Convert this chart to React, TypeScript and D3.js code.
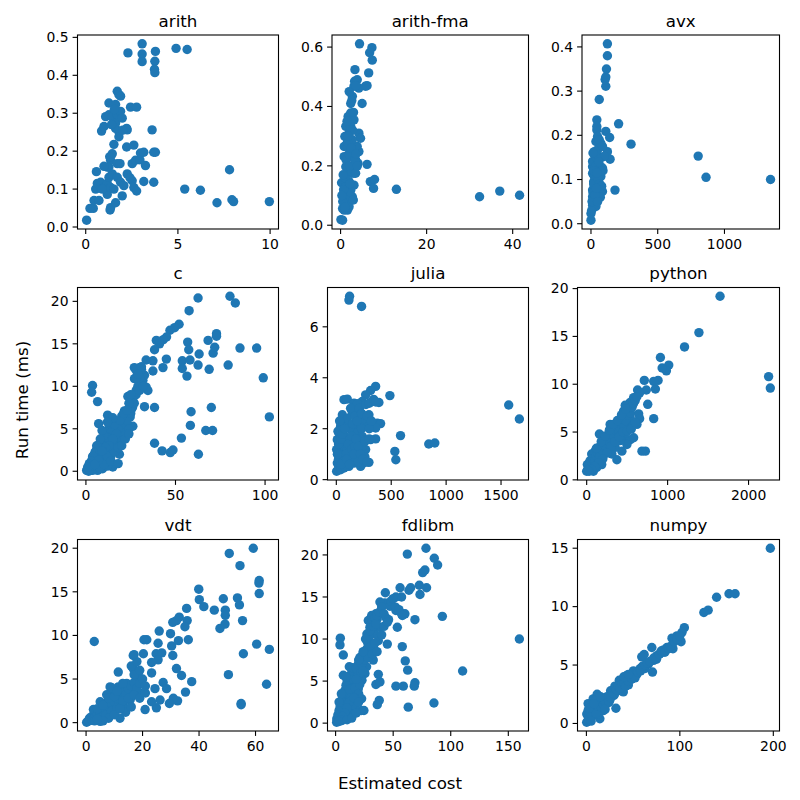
import * as React from 'react';
import * as d3 from 'd3';

type Pt = [number, number];

// estimated cost vs run time (ms), one list per benchmark
const arith: Pt[] = [
  [0.05, 0.018], [0.23, 0.049], [0.41, 0.049], [0.45, 0.07], [0.72, 0.07], [0.54, 0.1], [0.63, 0.115],
  [0.81, 0.104], [0.81, 0.118], [0.58, 0.146], [1.17, 0.086], [1.32, 0.045], [1.35, 0.051], [1.62, 0.064],
  [1.98, 0.082], [0.99, 0.104], [1.17, 0.115], [1.35, 0.104], [1.53, 0.1], [1.26, 0.131], [1.44, 0.14],
  [1.26, 0.158], [1.35, 0.176], [1.44, 0.193], [1.53, 0.218], [1.17, 0.158], [0.99, 0.16], [1.71, 0.167],
  [1.86, 0.167], [1.71, 0.131], [1.89, 0.118], [2.07, 0.109], [2.25, 0.14], [2.52, 0.122], [2.61, 0.104],
  [2.76, 0.095], [2.22, 0.211], [2.61, 0.216], [2.52, 0.167], [2.7, 0.176], [2.94, 0.177], [2.97, 0.195],
  [3.15, 0.197], [3.24, 0.162], [3.15, 0.12], [3.69, 0.118], [3.69, 0.197], [3.78, 0.197], [3.6, 0.256],
  [2.25, 0.256], [2.22, 0.26], [0.86, 0.253], [0.99, 0.265], [1.08, 0.291], [1.26, 0.296], [1.26, 0.327],
  [1.62, 0.323], [1.71, 0.358], [1.8, 0.349], [1.89, 0.345], [1.44, 0.29], [1.62, 0.274], [1.71, 0.296],
  [1.89, 0.305], [1.98, 0.287], [1.8, 0.251], [1.8, 0.238], [1.62, 0.26], [2.43, 0.316], [2.76, 0.316],
  [2.29, 0.459], [3.06, 0.483], [3.06, 0.456], [3.06, 0.436], [3.78, 0.463], [3.75, 0.437], [3.73, 0.416],
  [3.75, 0.407], [4.9, 0.471], [5.5, 0.468], [5.37, 0.1], [6.22, 0.097], [7.12, 0.064], [7.8, 0.151],
  [7.93, 0.072], [8.02, 0.067], [9.96, 0.067], [1.4, 0.27], [1.55, 0.31], [1.3, 0.185], [2.0, 0.255],
  [0.9, 0.1], [2.4, 0.13],
];

const arithFma: Pt[] = [
  [0.08, 0.019], [0.46, 0.056], [0.83, 0.085], [0.23, 0.143], [0.68, 0.107], [1.21, 0.13], [1.59, 0.175],
  [1.75, 0.197], [1.21, 0.197], [1.97, 0.147], [2.35, 0.118], [2.73, 0.096], [1.59, 0.051], [1.97, 0.085],
  [1.44, 0.231], [0.83, 0.265], [0.99, 0.299], [1.21, 0.333], [1.75, 0.366], [2.35, 0.378], [2.35, 0.41],
  [2.73, 0.434], [3.11, 0.468], [3.26, 0.485], [3.34, 0.524], [3.87, 0.49], [4.25, 0.462], [5.77, 0.468],
  [6.15, 0.47], [4.4, 0.611], [7.28, 0.598], [6.75, 0.581], [7.36, 0.556], [6.53, 0.513], [5.0, 0.41],
  [4.25, 0.31], [4.63, 0.293], [3.87, 0.265], [4.25, 0.248], [3.49, 0.22], [4.02, 0.209], [6.15, 0.205],
  [3.11, 0.175], [3.49, 0.265], [2.35, 0.265], [2.73, 0.288], [3.11, 0.355], [6.9, 0.147], [7.89, 0.154],
  [7.66, 0.124], [12.97, 0.121], [32.3, 0.096], [37.0, 0.115], [41.6, 0.101], [0.83, 0.231], [1.59, 0.265],
  [1.97, 0.31], [2.35, 0.333], [2.73, 0.231], [2.2, 0.197], [2.5, 0.175], [1.59, 0.107], [1.21, 0.085],
  [0.83, 0.051], [0.46, 0.017], [1.97, 0.062], [2.96, 0.085], [3.11, 0.135], [3.49, 0.175], [0.5, 0.08],
  [0.7, 0.12], [1.0, 0.16], [1.3, 0.22], [1.6, 0.28], [1.9, 0.24], [2.1, 0.2], [2.5, 0.26], [2.8, 0.32],
  [3.0, 0.38], [2.6, 0.42], [1.5, 0.35], [1.8, 0.3], [2.2, 0.14], [3.3, 0.22], [3.6, 0.24], [3.9, 0.2],
  [2.0, 0.45], [3.5, 0.47], [0.3, 0.1], [0.6, 0.17], [1.0, 0.06],
];

const avx: Pt[] = [
  [0, 0.008], [0, 0.023], [12, 0.042], [12, 0.061], [12, 0.076], [20, 0.095], [12, 0.114], [12, 0.129],
  [12, 0.141], [25, 0.163], [37, 0.186], [44, 0.212], [44, 0.235], [44, 0.22], [62, 0.281], [111, 0.311],
  [106, 0.326], [111, 0.332], [116, 0.35], [123, 0.38], [123, 0.407], [49, 0.061], [62, 0.076], [86, 0.073],
  [74, 0.107], [69, 0.129], [62, 0.152], [49, 0.167], [74, 0.182], [49, 0.197], [62, 0.19], [111, 0.209],
  [140, 0.195], [123, 0.163], [143, 0.146], [180, 0.076], [207, 0.226], [300, 0.18], [803, 0.153],
  [862, 0.105], [1345, 0.1], [25, 0.084], [37, 0.099], [49, 0.122], [25, 0.054], [37, 0.039], [25, 0.107],
  [86, 0.126], [99, 0.152], [86, 0.175], [5, 0.03], [8, 0.05], [15, 0.07], [20, 0.09], [30, 0.11],
  [35, 0.13], [40, 0.15], [55, 0.1], [60, 0.14], [65, 0.09], [70, 0.06], [80, 0.085], [90, 0.12],
  [30, 0.065], [20, 0.12], [15, 0.16], [40, 0.08], [50, 0.05], [45, 0.115],
];

const cLang: Pt[] = [
  [3.7, 10.1], [3.2, 9.3], [6.5, 8.2], [7.1, 5.6], [12.1, 6.6], [62.6, 20.4], [80.4, 20.6], [83.4, 19.8],
  [57.6, 18.9], [52, 17.3], [49.5, 16.9], [46.9, 16.6], [45, 15.8], [43.2, 15.5], [39.3, 15.4], [41.1, 15],
  [38.3, 14.3], [37.4, 13], [33.6, 13.1], [44.9, 13.2], [43, 12.2], [37.4, 11.8], [29.9, 12.2], [28, 11.9],
  [56.8, 15.2], [57.4, 14.3], [53.8, 13], [53.8, 12.1], [56.4, 11.2], [58.1, 13.1], [63.2, 13.8],
  [62.6, 12.5], [68.2, 15.4], [71, 13.9], [71.9, 14.6], [72.9, 16.2], [72.9, 15.9], [68.8, 12], [86, 14.5],
  [95.3, 14.5], [79.4, 12.5], [99, 11], [102.4, 6.4], [32.7, 7.6], [38.3, 7.5], [70, 7.5], [58.7, 7],
  [58.3, 5.4], [66.9, 4.8], [70.7, 4.8], [53.3, 3.9], [38.3, 3.3], [42.5, 2.4], [47.1, 2.2], [48.6, 2.5],
  [62.8, 2], [26.2, 8.3], [23.4, 8.8], [28, 9.5], [29.9, 10.3], [31.8, 10.7], [33.6, 9.9], [34.6, 9.5],
  [27.1, 10.9], [32.7, 11.3], [21.5, 7.1], [25.2, 7.2], [24.7, 6.4], [26.2, 5.3], [21.5, 5.2], [18.7, 5.6],
  [15.9, 6], [13.1, 5.2], [11.2, 4.6], [15, 4.8], [18.7, 3.6], [22.4, 4.2], [17.8, 4.8], [9.3, 3.6],
  [7.5, 3.2], [5.6, 2.4], [3.7, 1.7], [1.9, 0.9], [0.4, 0.1], [0.9, 0.3], [2.8, 0.5], [11.2, 2.4], [14, 1.8],
  [18.7, 2], [15, 0.5], [9.3, 0.3], [7.5, 0.9], [5.6, 1.5], [7.5, 2], [10.3, 3], [13.1, 3.4], [15.9, 4],
  [12.1, 2.4], [4.7, 0.5], [6.5, 0.1], [3.7, 0.1], [1.5, 0], [2, 0.2], [3, 0.6], [4, 1], [5, 1.3], [6, 1.8],
  [7, 2.5], [8, 2.8], [9, 2], [10, 1.5], [11, 1], [12, 0.6], [13, 1.3], [14, 2.8], [16, 3], [17, 2.5],
  [19, 3], [20, 4], [21, 4.5], [22, 5.5], [23, 6], [24, 5], [25, 6.8], [26, 7.5], [27, 8], [28, 9],
  [29, 10], [30, 11], [31, 12], [30, 9.5], [32, 10], [28, 11], [27, 12.2], [31, 12.3], [29, 11.4], [25, 9],
  [24, 8], [20, 6.5], [18, 5], [16, 5.5], [14, 4.5], [12, 4], [10, 4.2], [9, 4.8], [8, 3.8], [6, 3],
  [5, 2.2], [4, 1.8], [3, 1.2], [2, 0.8], [1, 0.5], [6, 0.6], [8, 0.3], [10, 0.8], [12, 1.8], [14, 1.2],
  [16, 2.3], [18, 2.8], [20, 3], [22, 3.8], [24, 4.4], [19, 6], [21, 6.8], [23, 7.2], [17, 4.4], [15, 3.8],
  [13, 3], [11, 2.8], [9, 2.4], [7, 1.3], [5, 0.8], [15, 6.3], [18, 0.9], [12, 5.8],
];

const julia: Pt[] = [
  [121, 7.2], [115, 7.05], [230, 6.8], [1570, 2.93], [1667, 2.38], [488, 3.3], [358, 3.66], [312, 3.5],
  [267, 3.33], [388, 3.03], [327, 3.07], [236, 3.07], [70, 3.14], [100, 3.16], [161, 3.0], [191, 2.98],
  [297, 2.55], [282, 2.22], [373, 2.22], [403, 2.2], [358, 2.03], [358, 1.6], [312, 1.57], [267, 1.54],
  [297, 0.68], [245, 0.65], [585, 1.73], [533, 1.11], [542, 0.78], [842, 1.4], [897, 1.44], [55, 2.55],
  [145, 2.61], [206, 2.68], [3, 0.33], [9, 0.65], [3, 1.18], [9, 1.57], [24, 1.83], [39, 2.09], [70, 2.22],
  [55, 1.18], [85, 0.92], [115, 0.52], [161, 0.65], [191, 1.05], [221, 1.18], [206, 1.44], [176, 1.7],
  [145, 1.96], [115, 2.16], [100, 1.57], [70, 1.31], [39, 0.92], [24, 0.52], [130, 1.18], [161, 1.44],
  [191, 1.96], [221, 2.22], [236, 1.7], [130, 0.92], [176, 0.85], [70, 0.46], [39, 0.39], [100, 1.18],
  [221, 0.52], [252, 0.92], [267, 1.18], [20, 0.8], [30, 1.0], [50, 1.5], [60, 2.0], [80, 1.7], [90, 1.0],
  [110, 1.4], [120, 2.0], [140, 1.2], [150, 0.8], [170, 1.3], [180, 2.2], [200, 0.7], [210, 1.6],
  [230, 2.0], [240, 1.3], [250, 2.4], [260, 0.9], [20, 1.4], [40, 1.6], [60, 0.7], [80, 0.5], [100, 2.4],
  [130, 2.8], [150, 2.2], [170, 2.5], [190, 2.3], [210, 2.8], [230, 2.6], [10, 1.0], [15, 1.9], [30, 2.3],
  [45, 0.6], [55, 1.8], [75, 2.0], [95, 0.8], [120, 0.6], [140, 1.7], [160, 1.0], [180, 1.6], [200, 1.3],
  [220, 1.0], [240, 0.8], [260, 1.5], [280, 2.5], [300, 2.0], [320, 2.3], [300, 1.6], [280, 0.7],
  [270, 2.95], [300, 3.0], [340, 3.15], [360, 3.05],
];

const python: Pt[] = [
  [1648, 19.2], [1387, 15.4], [1209, 13.9], [2248, 10.8], [2269, 9.6], [911, 12.8], [1014, 12], [985, 11.4],
  [932, 11.7], [882, 10.4], [828, 10.3], [849, 9.5], [737, 9.4], [712, 10.4], [629, 9.4], [828, 6.4],
  [754, 7.9], [725, 3], [683, 3], [654, 9.1], [580, 8.6], [538, 8.1], [476, 7.8], [518, 7.1], [642, 6.9],
  [654, 6.4], [456, 6.5], [414, 5.8], [290, 5.8], [373, 4.9], [157, 4.8], [497, 5.5], [559, 5.8], [456, 4.4],
  [538, 4.2], [435, 3], [373, 2.1], [311, 3.9], [248, 3.4], [207, 2.7], [145, 2.1], [83, 1.6], [41, 1.3],
  [0, 0.9], [8, 1.6], [104, 3], [166, 3.5], [248, 4.4], [331, 4.9], [393, 5.6], [207, 4.1], [269, 3],
  [352, 3.4], [311, 2.7], [186, 1.6], [83, 0.9], [124, 1.3], [41, 2], [62, 2.7], [497, 3.7], [580, 4.4],
  [621, 5.8], [476, 4.9], [414, 4.1], [538, 6.5], [456, 7.2], [20, 1.2], [40, 1.6], [60, 1.5], [80, 2.2],
  [100, 2.0], [120, 2.5], [140, 2.8], [160, 2.4], [180, 3.2], [200, 3.0], [220, 3.6], [240, 3.9],
  [260, 4.2], [280, 4.0], [300, 4.5], [320, 5.0], [340, 4.6], [360, 5.2], [380, 5.5], [400, 5.0],
  [420, 5.4], [440, 6.0], [460, 5.6], [480, 6.2], [500, 6.8], [520, 7.5], [540, 7.0], [560, 7.6],
  [580, 8.0], [600, 8.3], [620, 8.7], [300, 3.5], [350, 4.0], [400, 4.5], [450, 5.0], [500, 5.1],
  [550, 5.3], [600, 6.0], [250, 2.8], [200, 2.2], [150, 1.8], [100, 1.4], [60, 1.1], [30, 0.9], [10, 1.0],
  [120, 3.3], [180, 4.0], [230, 4.6], [280, 5.2], [330, 5.8], [380, 6.2], [430, 6.8], [480, 7.4],
];

const vdt: Pt[] = [
  [2.9, 9.3], [11.4, 5.8], [59.2, 20], [50.7, 19.4], [54.5, 18], [61.3, 16.3], [61.2, 16], [61.3, 14.8],
  [39.9, 15.3], [40.1, 14.1], [41.7, 13.3], [45.4, 12.9], [48.6, 14.2], [49.3, 12.9], [49.3, 12.3],
  [49.2, 11.3], [47.4, 10.8], [53.6, 14.3], [54.3, 13.5], [55.4, 11.7], [60.4, 9], [64.9, 8.4], [55.7, 7.9],
  [50.4, 5.5], [63.9, 4.4], [54.9, 2.2], [54.9, 2.05], [35.6, 13.1], [33, 12.1], [32, 11.7], [30.7, 11.5],
  [35.8, 11.7], [35, 11], [29.9, 10.2], [36.2, 9.5], [32.7, 9.4], [30.3, 8.8], [25.9, 10.5], [21.5, 9.5],
  [20.5, 9.5], [25.5, 9.1], [24.8, 7.9], [26.8, 8], [25.5, 7.2], [23.2, 6.9], [30.7, 7.7], [32, 6.2],
  [33.8, 5.4], [37.4, 4.7], [35.2, 3.5], [32.4, 2.5], [30.9, 2.8], [29.5, 2.2], [24.4, 3.9], [27.3, 4.6],
  [28.5, 3.9], [26.2, 2.6], [24.9, 1.7], [23.2, 2.4], [20.9, 1.5], [16.7, 7.7], [20.3, 7.9], [23.2, 5.7],
  [18.5, 5.7], [16.7, 6.2], [14.4, 4.5], [16.2, 3.8], [19.1, 3.4], [17.9, 4.9], [12, 0.5], [0.2, 0.04],
  [1.2, 0.5], [2, 0.7], [3.2, 1.1], [4.4, 1.5], [5.5, 1.9], [6.7, 2.2], [7.9, 2.6], [9.1, 3.2], [10.3, 3.6],
  [11.4, 4.1], [13.2, 4.1], [14.4, 3.6], [8.5, 4.1], [7.3, 3.2], [5, 2.4], [2.6, 1.5], [3.8, 0.3], [6.1, 0.7],
  [8.5, 1.1], [10.8, 1.5], [13.2, 2], [15.6, 2.6], [12, 2.6], [9.7, 2.2], [7.3, 0.7], [5, 0.15], [13.8, 3],
  [16.2, 3], [10.8, 2.6], [1, 0.2], [2, 0.3], [3, 0.6], [4, 0.9], [5, 1.1], [6, 1.3], [7, 1.6], [8, 1.9],
  [9, 2.2], [10, 2.4], [11, 2.8], [12, 3.1], [13, 3.4], [14, 3.2], [15, 3.9], [16, 4.2], [17, 4.6],
  [18, 4.0], [19, 4.5], [20, 5.0], [17, 5.5], [16, 6.5], [18, 7.0], [17, 7.8], [19, 6.0], [3, 0.2], [5, 0.5],
  [7, 0.9], [9, 1.3], [11, 1.7], [13, 2.5], [15, 2.8], [17, 3.2], [19, 2.8], [21, 3.4], [21, 4.2], [14, 1.2],
  [16, 1.8], [8, 0.5], [10, 0.9], [12, 1.6], [4, 1.6], [6, 2.0], [8, 2.8], [10, 3.0], [9, 4.0], [11, 3.6],
  [13, 4.5], [6, 0.2], [4, 0.4],
];

const fdlibm: Pt[] = [
  [4.1, 10.1], [3.8, 9.3], [6.7, 8.1], [159.6, 10], [110.3, 6.2], [85.4, 2.4], [92.7, 12.7], [78.5, 20.8],
  [62.3, 20.1], [85.7, 19.6], [88.6, 18.8], [77.6, 18.2], [75.6, 17.9], [79, 16.1], [72.7, 16.4], [73.3, 15.3],
  [65.2, 16.1], [63.7, 15.8], [56, 16.1], [57.3, 15], [52.4, 15], [43.2, 15.5], [42.8, 14.3], [38.5, 14.4],
  [47.2, 13.9], [52.4, 13.4], [57.3, 13], [60.2, 13], [68.9, 12.3], [53.6, 11.4], [35, 13], [36.2, 12.4],
  [28.4, 12.2], [29.8, 11.4], [27.2, 10.6], [37.1, 9.8], [44.9, 9.4], [57.9, 9.1], [60.5, 7.4], [62.6, 6.3],
  [52.4, 4.4], [58.8, 4.4], [68.9, 4.8], [68.3, 4.4], [63.1, 1.9], [37.9, 2.7], [36.2, 2.2], [37.1, 5.8],
  [35, 4.6], [38.5, 4.9], [32.7, 7.5], [24, 8.4], [21.1, 7.8], [19.7, 7], [11.9, 6.7], [25.5, 5.9],
  [22.9, 5.1], [6.7, 5.7], [8.1, 3.9], [24.6, 1.5], [22.3, 1.5], [0.9, 0.1], [2.3, 0.5], [3.8, 0.9],
  [5.2, 1.5], [6.7, 2.1], [8.1, 2.7], [9.6, 3.3], [11, 3.9], [13.9, 4.5], [15.3, 5.1], [18.2, 5.9],
  [21.1, 6.5], [6.7, 0.7], [11, 1.1], [15.3, 1.3], [18.2, 2.7], [15.3, 3.5], [19.7, 4.1], [12.5, 2.3],
  [9.6, 1.7], [5.2, 0.3], [22.6, 2.9], [16.8, 1.9], [26.9, 6.7], [29.8, 8.2], [32.7, 9], [34.2, 10.6],
  [38.5, 11.4], [31.3, 12.8], [1, 0.5], [2, 1.0], [3, 1.5], [4, 2.0], [5, 2.6], [6, 3.2], [7, 3.5],
  [8, 2.2], [9, 4.5], [10, 5.0], [11, 5.5], [12, 4.0], [13, 3.0], [14, 6.0], [15, 6.6], [16, 5.2],
  [17, 4.2], [18, 6.5], [19, 5.5], [20, 3.5], [21, 4.6], [22, 6.0], [23, 7.0], [24, 6.2], [25, 7.5],
  [26, 8.0], [27, 8.8], [28, 9.5], [29, 10.2], [30, 11.0], [31, 11.8], [32, 12.2], [33, 11.5], [34, 12.5],
  [35, 11.8], [36, 12.8], [38, 13.2], [40, 13.8], [42, 13.0], [44, 12.5], [46, 12.3], [48, 14.5], [50, 14.8],
  [52, 13.8], [55, 13.5], [58, 12.8], [30, 9.0], [28, 7.8], [26, 10.0], [24, 8.5], [20, 7.5], [18, 5.2],
  [15, 2.2], [12, 2.5], [10, 1.8], [8, 1.2], [6, 0.8], [4, 0.4], [3, 0.2], [10, 0.4], [14, 0.6], [18, 1.2],
  [16, 3.0], [20, 2.5], [32, 8.2], [34, 9.5], [36, 8.5], [40, 10.5], [42, 11.5], [45, 12.0], [9, 5.5],
  [5, 3.5], [3, 2.5],
];

const numpy: Pt[] = [
  [196.8, 15], [152.6, 11.1], [159.1, 11.1], [139.3, 10.8], [130.3, 9.7], [125.7, 9.5], [104.8, 8.2],
  [102.3, 7.8], [96.9, 7.5], [91.6, 7.3], [101.3, 7], [92.6, 6.4], [86.2, 6.5], [82.6, 6.3], [79, 6],
  [75.4, 5.8], [70, 6.5], [61.8, 5.9], [59.2, 5.7], [71.8, 5.4], [66.4, 5.1], [62.8, 4.7], [70.7, 4.4],
  [57.5, 4.7], [53.9, 4.2], [48.5, 3.8], [43.8, 3.5], [39.5, 3.1], [35.2, 3.7], [34.1, 2.8], [29.4, 2.4],
  [31.6, 1.3], [25.1, 2], [19.7, 1.5], [14.4, 1.1], [11.5, 2.5], [7.2, 2.1], [1.8, 1.7], [0.4, 0.8],
  [0.3, 0.1], [3.6, 0.5], [7.2, 0.8], [10.8, 1.4], [14.4, 0.4], [5.4, 1.3], [16.2, 2], [21.5, 2.1],
  [25.9, 2.8], [30.5, 3.2], [37.7, 3.7], [43.1, 4.1], [50.3, 4.5], [44.9, 3.3], [39.5, 2.7], [9, 1.8],
  [1.8, 1.1], [12.6, 0.8], [18, 1.1], [2, 0.3], [4, 1.0], [6, 0.6], [8, 1.2], [10, 0.9], [12, 1.5],
  [14, 1.8], [16, 1.4], [18, 1.7], [20, 1.9], [22, 2.3], [24, 1.8], [26, 2.2], [28, 2.6], [30, 2.5],
  [32, 2.9], [34, 3.2], [36, 3.0], [38, 3.4], [40, 3.5], [42, 3.2], [45, 3.6], [48, 3.9], [50, 4.1],
  [52, 3.9], [55, 4.4], [58, 4.5], [60, 4.9], [63, 5.0], [65, 5.2], [68, 5.3], [72, 5.6], [75, 5.5],
  [78, 5.9], [80, 6.2], [84, 6.1], [88, 6.4], [90, 6.6], [94, 7.0], [97, 7.2], [100, 7.5], [5, 0.2],
  [3, 1.3], [12, 2.3], [10, 2.0], [8, 1.7], [15, 2.3], [20, 1.2], [40, 4.0], [45, 4.2],
];

const titles = ['arith', 'arith-fma', 'avx', 'c', 'julia', 'python', 'vdt', 'fdlibm', 'numpy'];
const series = [arith, arithFma, avx, cLang, julia, python, vdt, fdlibm, numpy];
const xTicks = [
  [0, 5, 10], [0, 20, 40], [0, 500, 1000],
  [0, 50, 100], [0, 500, 1000, 1500], [0, 1000, 2000],
  [0, 20, 40, 60], [0, 50, 100, 150], [0, 100, 200],
];
const yTicks = [
  [0, 0.1, 0.2, 0.3, 0.4, 0.5], [0, 0.2, 0.4, 0.6], [0, 0.1, 0.2, 0.3, 0.4],
  [0, 5, 10, 15, 20], [0, 2, 4, 6], [0, 5, 10, 15, 20],
  [0, 5, 10, 15, 20], [0, 5, 10, 15, 20], [0, 5, 10, 15],
];
const yDecimals = [1, 1, 1, 0, 0, 0, 0, 0, 0];

// axes boxes [left, top, right, bottom] in px
const boxes = [
  [77.5, 35, 278.5, 229], [332, 35, 528.5, 229], [582, 35, 779.5, 229],
  [77.5, 287.5, 278.5, 480], [327.5, 287.5, 528.5, 480], [577.5, 287.5, 779.5, 480],
  [77.5, 539.5, 278.5, 731], [327.5, 539.5, 528.5, 731], [577.5, 539.5, 779.5, 731],
];

const color = '#1f77b4';
const font = 'DejaVu Sans, sans-serif';

const pad = (ext: [number, number]) => {
  const m = (ext[1] - ext[0]) * 0.05;
  return [ext[0] - m, ext[1] + m];
};

const Panel = ({i}: {i: number}) => {
  const [l, t, r, b] = boxes[i];
  const pts = series[i];
  const x = d3.scaleLinear().domain(pad(d3.extent(pts, d => d[0]) as [number, number])).range([l, r]);
  const y = d3.scaleLinear().domain(pad(d3.extent(pts, d => d[1]) as [number, number])).range([b, t]);
  const fy = d3.format(`.${yDecimals[i]}f`);
  return (
    <g>
      <g clipPath={`url(#clip${i})`}>
        {pts.map((p, k) => (
          <circle key={k} cx={x(p[0])} cy={y(p[1])} r={4.7} fill={color} />
        ))}
      </g>
      <rect x={l} y={t} width={r - l} height={b - t} fill="none" stroke="#000" strokeWidth={1.1} />
      {xTicks[i].map(v => (
        <g key={'x' + v} transform={`translate(${x(v)},${b})`}>
          <line y2={4.9} stroke="#000" strokeWidth={1.1} />
          <text y={20} textAnchor="middle" fontSize={13.9} fontFamily={font} fill="#000">{v}</text>
        </g>
      ))}
      {yTicks[i].map(v => (
        <g key={'y' + v} transform={`translate(${l},${y(v)})`}>
          <line x2={-4.9} stroke="#000" strokeWidth={1.1} />
          <text x={-9} dy="0.35em" textAnchor="end" fontSize={13.9} fontFamily={font} fill="#000">{fy(v)}</text>
        </g>
      ))}
      <text x={(l + r) / 2} y={t - 8.3} textAnchor="middle" fontSize={16.7} fontFamily={font} fill="#000">
        {titles[i]}
      </text>
    </g>
  );
};

export default function App() {
  return (
    <svg width={800} height={800} style={{position: 'absolute', left: 0, top: 0, background: '#fff'}}>
      <defs>
        {boxes.map(([l, t, r, b], i) => (
          <clipPath key={i} id={`clip${i}`}>
            <rect x={l} y={t} width={r - l} height={b - t} />
          </clipPath>
        ))}
      </defs>
      <rect width={800} height={800} fill="#fff" />
      {titles.map((_, i) => <Panel key={i} i={i} />)}
      <text x={400} y={789} textAnchor="middle" fontSize={16.7} fontFamily={font} fill="#000">Estimated cost</text>
      <text transform="translate(28,400) rotate(-90)" textAnchor="middle" fontSize={16.7} fontFamily={font} fill="#000">
        Run time (ms)
      </text>
    </svg>
  );
}
